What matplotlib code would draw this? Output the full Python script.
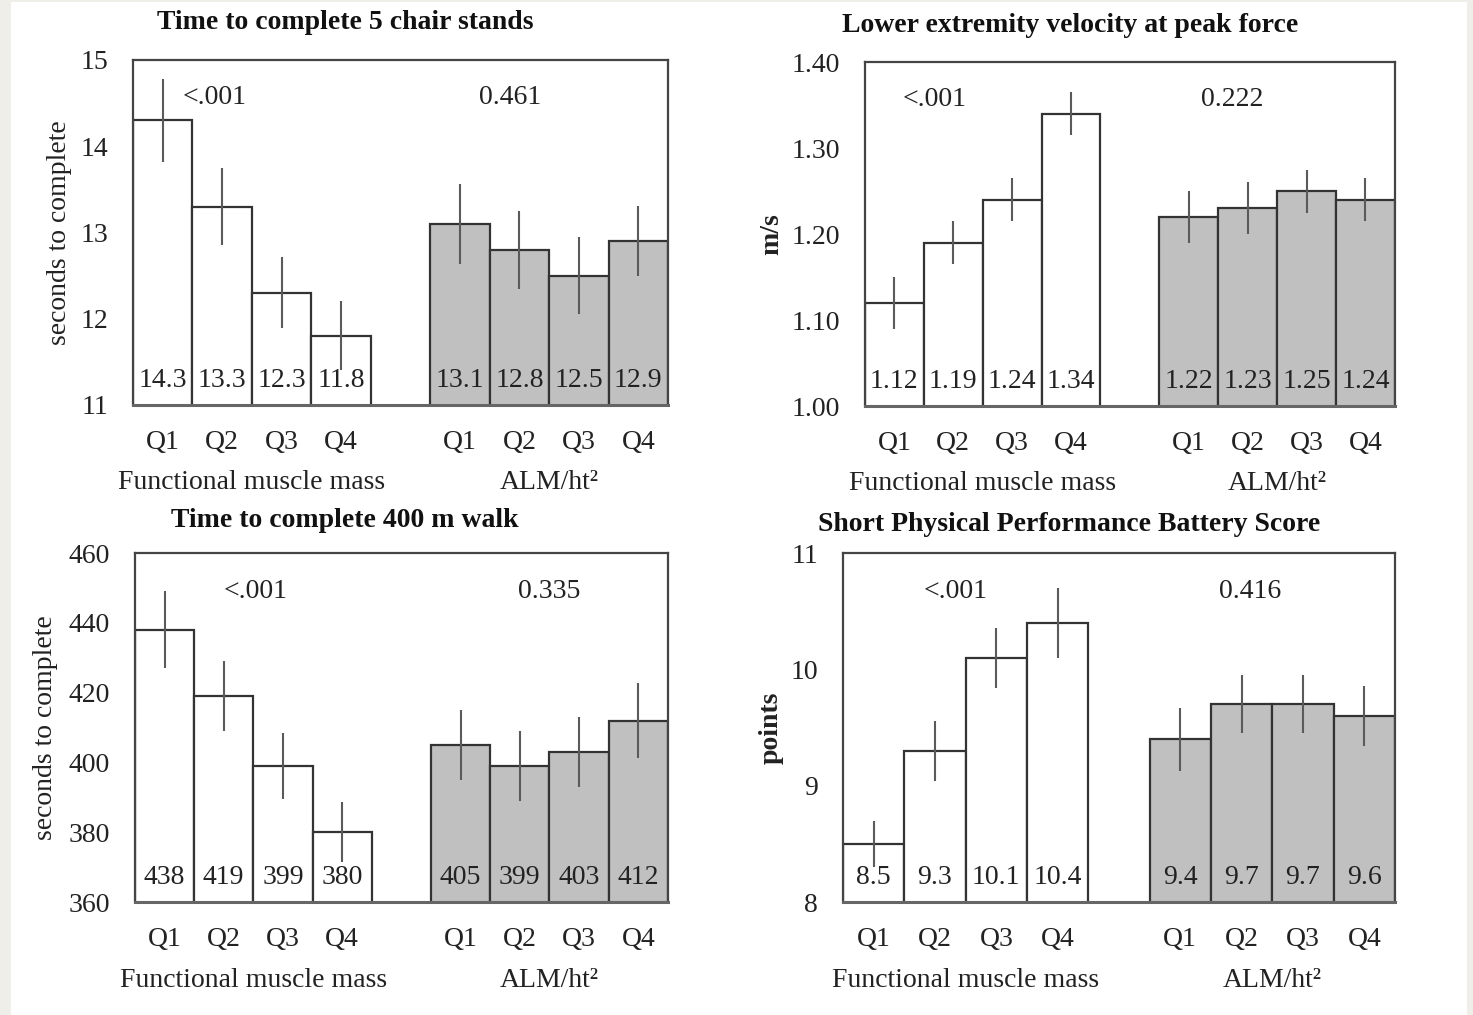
import numpy as np
import matplotlib.pyplot as plt
from matplotlib.patches import Rectangle
import matplotlib.transforms as mtransforms

plt.rcParams['font.family'] = ['Liberation Serif', 'DejaVu Serif']

quartiles = ['Q1', 'Q2', 'Q3', 'Q4']
groups = ['Functional muscle mass', 'ALM/ht²']

chair_fmm = [14.3, 13.3, 12.3, 11.8]
chair_fmm_err = [0.48, 0.45, 0.41, 0.40]
chair_alm = [13.1, 12.8, 12.5, 12.9]
chair_alm_err = [0.46, 0.45, 0.45, 0.41]

vel_fmm = [1.12, 1.19, 1.24, 1.34]
vel_fmm_err = [0.03, 0.025, 0.025, 0.025]
vel_alm = [1.22, 1.23, 1.25, 1.24]
vel_alm_err = [0.03, 0.03, 0.025, 0.025]

walk_fmm = [438, 419, 399, 380]
walk_fmm_err = [11, 10, 9.5, 8.6]
walk_alm = [405, 399, 403, 412]
walk_alm_err = [10, 10, 10, 10.7]

sppb_fmm = [8.5, 9.3, 10.1, 10.4]
sppb_fmm_err = [0.2, 0.26, 0.26, 0.3]
sppb_alm = [9.4, 9.7, 9.7, 9.6]
sppb_alm_err = [0.27, 0.25, 0.25, 0.26]

titles = ['Time to complete 5 chair stands', 'Lower extremity velocity at peak force',
          'Time to complete 400 m walk', 'Short Physical Performance Battery Score']
ylabels = ['seconds to complete', 'm/s', 'seconds to complete', 'points']
pvalues = [['<.001', '0.461'], ['<.001', '0.222'], ['<.001', '0.335'], ['<.001', '0.416']]
yticks = [[11, 12, 13, 14, 15], [1.00, 1.10, 1.20, 1.30, 1.40],
          [360, 380, 400, 420, 440, 460], [8, 9, 10, 11]]
fmts = ['{:.1f}', '{:.2f}', '{:.0f}', '{:.1f}']

data = [(chair_fmm, chair_fmm_err, chair_alm, chair_alm_err),
        (vel_fmm, vel_fmm_err, vel_alm, vel_alm_err),
        (walk_fmm, walk_fmm_err, walk_alm, walk_alm_err),
        (sppb_fmm, sppb_fmm_err, sppb_alm, sppb_alm_err)]

# layout (figure fractions) and annotation placement
axes_pos = [[0.0903, 0.6010, 0.3632, 0.3399],
            [0.5872, 0.6000, 0.3598, 0.3389],
            [0.0916, 0.1113, 0.3618, 0.3438],
            [0.5723, 0.1113, 0.3747, 0.3438]]
title_x = [0.396, 0.387, 0.394, 0.41]
title_y = [1.11, 1.105, 1.092, 1.083]
p_x = [[0.88, 5.85], [0.69, 5.73], [1.53, 6.5], [1.33, 6.14]]
ylab_x = [-0.137, -0.175, -0.168, -0.13]
ylab_bold = [False, True, False, True]

fs = 20

fig = plt.figure(figsize=(14.73, 10.15), dpi=100)
fig.patch.set_facecolor('#efeee9')
fig.patches.append(Rectangle((11 / 1473, 0), (1467 - 11) / 1473, 1 - 2 / 1015,
                             transform=fig.transFigure, facecolor='white',
                             edgecolor='none', zorder=-10))

x_fmm = np.arange(4)
x_alm = np.arange(5, 9)
edge = '#333333'

for i in range(4):
    ax = fig.add_axes(axes_pos[i])
    fmm, fmm_err, alm, alm_err = data[i]
    ax.bar(x_fmm, fmm, width=1.0, color='white', edgecolor=edge, linewidth=1.6, zorder=2)
    ax.bar(x_alm, alm, width=1.0, color='#c0c0c0', edgecolor=edge, linewidth=1.6, zorder=2)
    ax.errorbar(x_fmm, fmm, yerr=fmm_err, fmt='none', ecolor='#5a5a5a', elinewidth=1.5,
                capsize=0, zorder=3)
    ax.errorbar(x_alm, alm, yerr=alm_err, fmt='none', ecolor='#5a5a5a', elinewidth=1.5,
                capsize=0, zorder=3)

    ax.set_xlim(-0.5, 8.5)
    ax.set_ylim(yticks[i][0], yticks[i][-1])
    ax.set_yticks(yticks[i])
    if i == 1:
        ax.set_yticklabels(['{:.2f}'.format(t) for t in yticks[i]])
    ax.set_xticks(list(x_fmm) + list(x_alm))
    ax.set_xticklabels(quartiles + quartiles)
    ax.tick_params(length=0, labelsize=fs, colors='#222222')
    ax.tick_params(axis='y', pad=18)
    ax.tick_params(axis='x', pad=18)
    for s in ax.spines.values():
        s.set_color('#444444')
        s.set_linewidth(1.6)
    ax.spines['bottom'].set_color('#666666')
    ax.spines['bottom'].set_linewidth(2.2)

    trans = mtransforms.blended_transform_factory(ax.transData, ax.transAxes)
    for xs, vals in ((x_fmm, fmm), (x_alm, alm)):
        for xv, v in zip(xs, vals):
            ax.text(xv, 0.07, fmts[i].format(v), transform=trans, ha='center',
                    va='center', fontsize=fs, color='#222222', zorder=4)
    for k in range(2):
        ax.text(p_x[i][k], 0.89, pvalues[i][k], transform=trans, ha='center',
                va='center', fontsize=fs, color='#222222')
    ax.text(1.5, -0.225, groups[0], transform=trans, ha='center', va='center',
            fontsize=fs, color='#222222')
    ax.text(6.5, -0.225, groups[1], transform=trans, ha='center', va='center',
            fontsize=fs, color='#222222')

    ax.text(title_x[i], title_y[i], titles[i], transform=ax.transAxes, ha='center',
            va='center', fontsize=fs, fontweight='bold', color='#111111')
    ax.text(ylab_x[i], 0.5, ylabels[i], transform=ax.transAxes, rotation=90,
            ha='center', va='center', fontsize=fs, color='#222222',
            fontweight='bold' if ylab_bold[i] else 'normal')

plt.savefig('out.png', dpi=100, facecolor=fig.get_facecolor())
